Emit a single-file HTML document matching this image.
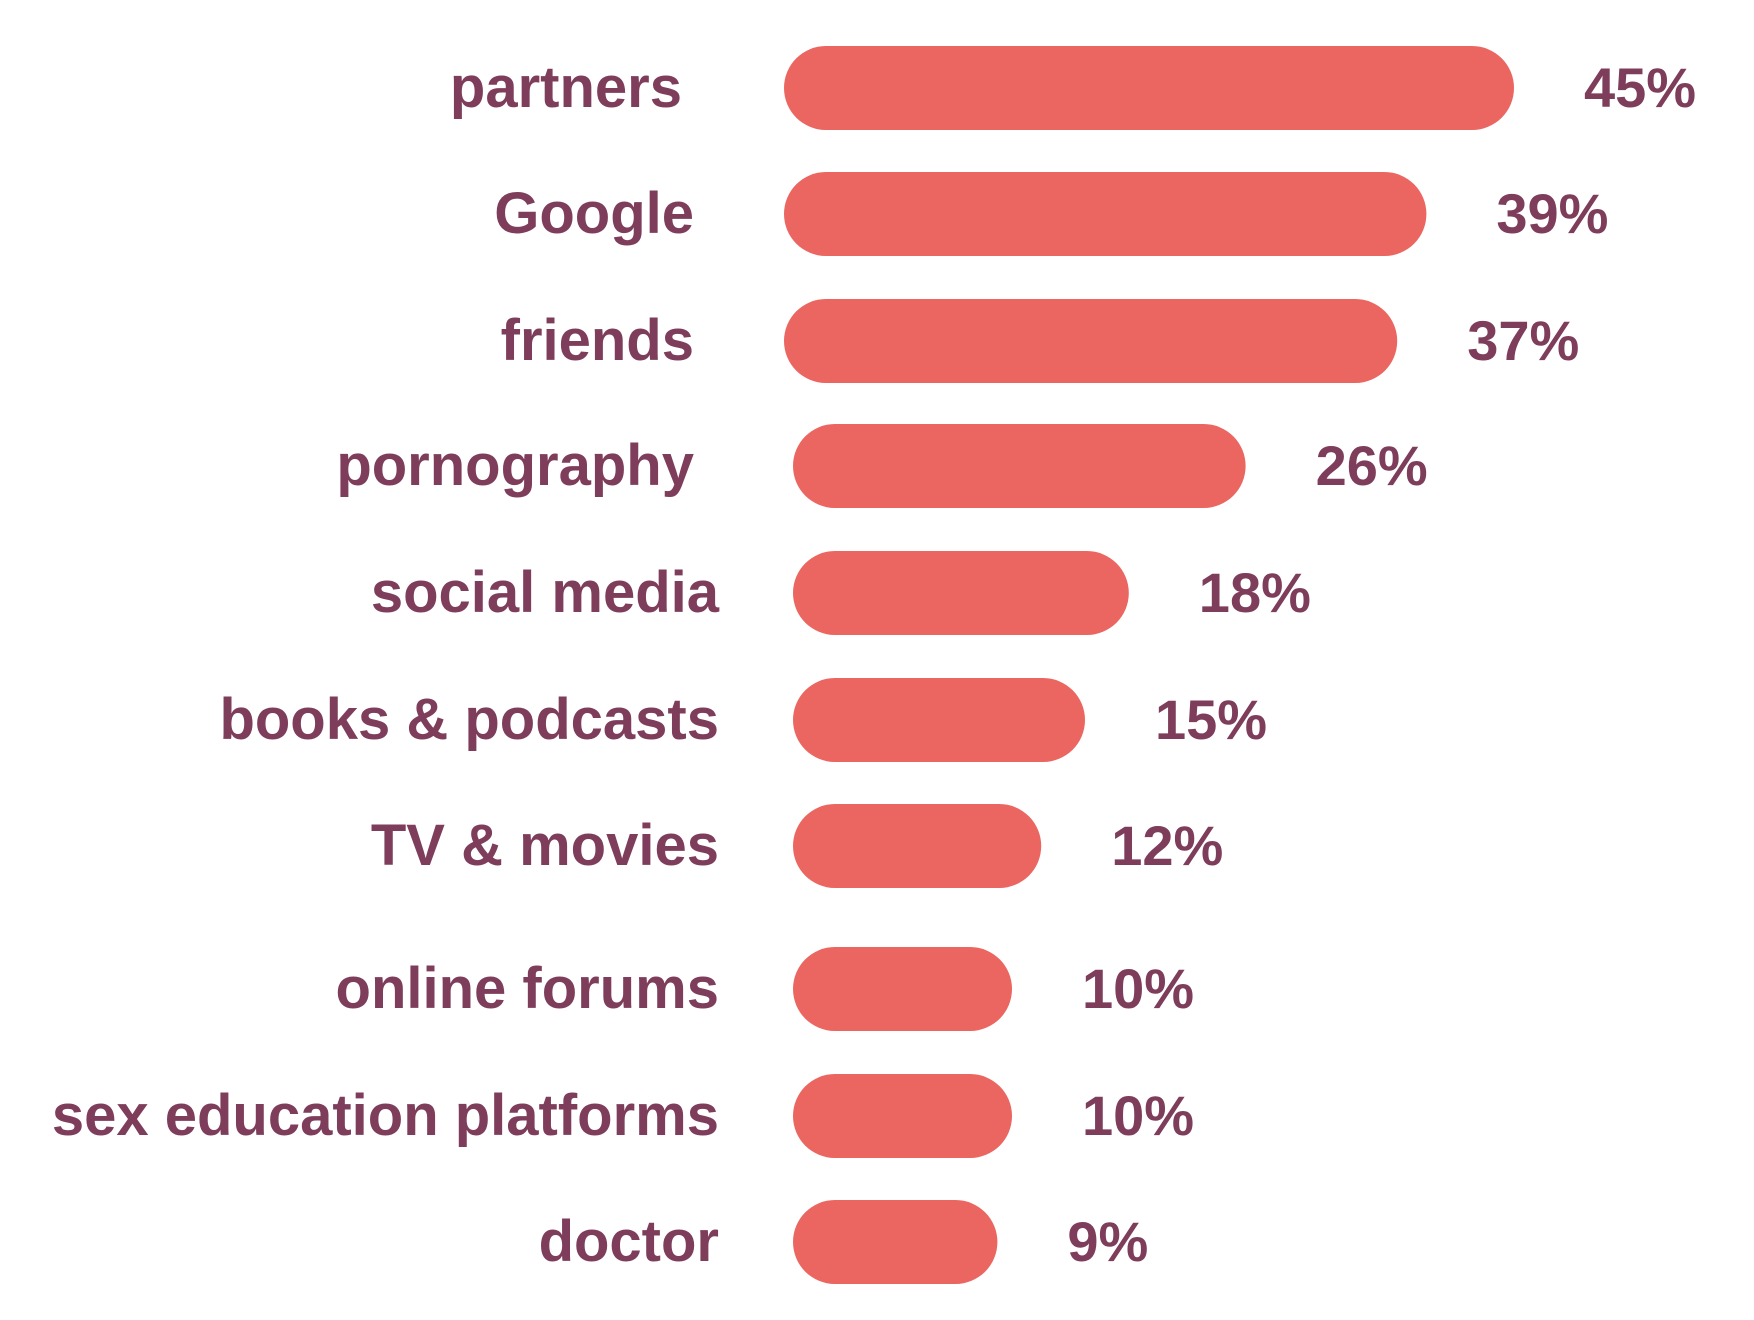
<!DOCTYPE html>
<html><head><meta charset="utf-8"><style>
html,body{margin:0;padding:0;background:#fff;}
svg{display:block;}
text{font-family:"Liberation Sans",sans-serif;font-weight:bold;fill:#7e3d5a;}
</style></head><body>
<svg id="chart" width="1754" height="1320" viewBox="0 0 1754 1320" xmlns="http://www.w3.org/2000/svg"></svg>
<script>
const categories = ["partners","Google","friends","pornography","social media","books & podcasts","TV & movies","online forums","sex education platforms","doctor"];
const values = [45,39,37,26,18,15,12,10,10,9];
const valueLabels = ["45%","39%","37%","26%","18%","15%","12%","10%","10%","9%"];

const rowCenters = [88,214,341,466,593,720,846,989,1116,1242];
const barH = 84;
function barLeft(i){ return i < 3 ? 784 : 793; }
function xLen(v){ return 73 + 14.6 * v; }
function labelRight(i){ return i === 0 ? 682 : (i < 4 ? 694 : 719); }

const svg = document.getElementById('chart');
const NS = 'http://www.w3.org/2000/svg';
categories.forEach((c, i) => {
  const cy = rowCenters[i];
  const x0 = barLeft(i);
  const w = xLen(values[i]);
  const r = document.createElementNS(NS, 'rect');
  r.setAttribute('x', x0);
  r.setAttribute('y', cy - barH/2);
  r.setAttribute('width', w);
  r.setAttribute('height', barH);
  r.setAttribute('rx', barH/2);
  r.setAttribute('fill', '#eb6660');
  
  
  svg.appendChild(r);

  const t = document.createElementNS(NS, 'text');
  t.setAttribute('x', labelRight(i));
  t.setAttribute('y', cy + 19);
  t.setAttribute('text-anchor', 'end');
  t.setAttribute('font-size', '58');
  t.textContent = c;
  
  
  svg.appendChild(t);

  const v = document.createElementNS(NS, 'text');
  v.setAttribute('x', x0 + w + 70);
  v.setAttribute('y', cy + 19);
  v.setAttribute('font-size', '56');
  v.textContent = valueLabels[i];
  
  
  svg.appendChild(v);
});
</script>
</body></html>
